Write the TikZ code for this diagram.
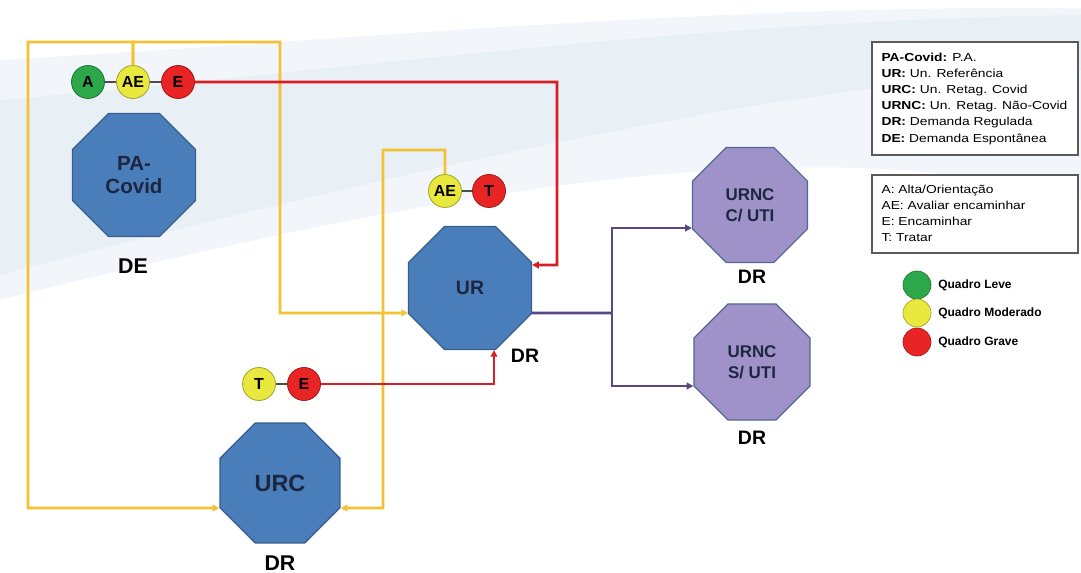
\documentclass[tikz,border=0pt]{standalone}
\usepackage{fontspec}
\setmainfont{Liberation Sans}
\usetikzlibrary{shapes.geometric,arrows.meta,calc}
\definecolor{octblue}{RGB}{74,126,187}
\definecolor{octblueb}{RGB}{56,93,138}
\definecolor{octpur}{RGB}{158,146,200}
\definecolor{octpurb}{RGB}{80,104,150}
\definecolor{navy}{RGB}{28,38,64}
\definecolor{ylw}{RGB}{242,194,52}
\definecolor{redl}{RGB}{214,30,36}
\definecolor{purl}{RGB}{88,72,132}
\definecolor{cgreen}{RGB}{44,168,74}
\definecolor{cyellow}{RGB}{232,232,62}
\definecolor{cred}{RGB}{232,36,36}
\definecolor{bgA}{RGB}{232,240,246}
\definecolor{bgB}{RGB}{242,246,250}
\definecolor{boxgray}{RGB}{90,90,90}
\begin{document}
\begin{tikzpicture}[x=0.75pt,y=-0.75pt,
  oct/.style={regular polygon, regular polygon sides=8, inner sep=0pt,
    minimum size=#1, align=center, font=\bfseries, text=navy, line width=0.9pt},
  octb/.style={oct=#1, fill=octblue, draw=octblueb},
  octp/.style={oct=#1, fill=octpur, draw=octpurb},
  dot/.style={circle, inner sep=0pt, minimum size=24.75pt, line width=0.6pt,
    font=\fontsize{12}{12}\selectfont\bfseries, text=black},
  gdot/.style={dot, fill=cgreen, draw=cgreen!70!black},
  ydot/.style={dot, fill=cyellow, draw=cyellow!70!black},
  rdot/.style={dot, fill=cred, draw=cred!70!black},
  ldot/.style={circle, inner sep=0pt, minimum size=21pt, line width=0.5pt},
  lab/.style={font=\fontsize{14.6}{16}\selectfont\bfseries, text=black},
  link/.style={draw=black!70, line width=0.8pt},
  yl/.style={draw=ylw, line width=2.2pt},
  rl/.style={draw=redl, line width=1.9pt},
  pl/.style={draw=purl, line width=1.9pt},
  tip/.style={-{Triangle[length=5pt,width=5pt]}},
  legbox/.style={draw=boxgray, line width=1.1pt, minimum width=154.5pt},
  legtxt/.style={anchor=west, inner sep=0pt, font=\fontsize{8.7}{12.1}\selectfont},
  qlab/.style={anchor=west, inner sep=0pt, font=\fontsize{9}{10}\selectfont\bfseries}
]
\useasboundingbox (0,0) rectangle (1081,573);
% background swoosh
\fill[bgB] (0,60) .. controls (350,40) and (700,5) .. (1081,8) -- (1081,200) .. controls (800,120) and (400,200) .. (0,300) -- cycle;
\fill[bgA] (0,100) .. controls (350,70) and (700,20) .. (1081,15) -- (1081,70) .. controls (800,80) and (400,170) .. (0,275) -- cycle;

% octagons
\node[octb=99.8pt, font=\fontsize{15.4}{17.3}\selectfont\bfseries] (PA) at (134,175) {PA-\\Covid};
\node[octb=99.8pt, font=\fontsize{14.6}{16}\selectfont\bfseries] (UR) at (470,288) {UR};
\node[octb=97.4pt, font=\fontsize{17.6}{19}\selectfont\bfseries] (URC) at (280,483) {URC};
\node[octp=93.4pt, font=\fontsize{12.7}{15.8}\selectfont\bfseries] (N1) at (750,205) {URNC\\C/ UTI};
\node[octp=94.2pt, font=\fontsize{12.7}{15.8}\selectfont\bfseries] (N2) at (752,362) {URNC\\S/ UTI};

% labels
\node[lab, font=\fontsize{16}{17}\selectfont\bfseries] (lDE) at (133,266) {DE};
\node[lab] (lUR) at (525,356) {DR};
\node[lab, font=\fontsize{16}{17}\selectfont\bfseries] (lURC) at (280,563) {DR};
\node[lab] (lN1) at (752,277) {DR};
\node[lab] (lN2) at (752,438) {DR};

% circles
\node[gdot] (A1) at (88,82) {A};
\node[ydot] (AE1) at (133,82) {AE};
\node[rdot] (E1) at (178,82) {E};
\node[ydot] (AE2) at (445,191) {AE};
\node[rdot] (T2) at (489,191) {T};
\node[ydot] (T3) at (259,384) {T};
\node[rdot] (E3) at (304,384) {E};
\draw[link] (A1) -- (AE1);
\draw[link] (AE1) -- (E1);
\draw[link] (AE2) -- (T2);
\draw[link] (T3) -- (E3);

% coordinates
\coordinate (ytl) at (28,42);
\coordinate (ytr) at (280,42);
\coordinate (ylb) at (28,508);
\coordinate (yrb) at (280,313);
\coordinate (y2t) at (383,150);
\coordinate (y2b) at (383,508);
\coordinate (rc) at (557,265);
\coordinate (pj) at (612,313);

% yellow connectors
\draw[yl, tip] (AE1.north) |- (ytl) -- (ylb) -- ($(URC.180)+(0,25)$);
\draw[yl, tip] (AE1.north) |- (ytr) -- (yrb) -- ($(UR.180)+(0,25)$);
\draw[yl, tip] (AE2.north) |- (y2t) -- (y2b) -- ($(URC.0)+(0,25)$);
% red connectors
\draw[rl, tip] (E1.east) -| (rc) -- ($(UR.0)+(0,-23)$);
\draw[rl, tip] (E3.east) -| ($(UR.270)+(24,0)$);
% purple connectors
\draw[pl] ($(UR.0)+(0,25)$) -- (pj);
\draw[pl, tip] (pj) |- ($(N1.180)+(0,23)$);
\draw[pl, tip] (pj) |- ($(N2.180)+(0,24)$);

% legend boxes
\node[legbox, minimum height=84.75pt, fill=white] (box1) at (975,98.5) {};
\node[legtxt] (t1) at ($(box1.west)+(10,0)$) {\scalebox{1.19}[1]{\begin{tabular}{@{}l@{}}
\textbf{PA-Covid:} P.A.\\
\textbf{UR:} Un. Referência\\
\textbf{URC:} Un. Retag. Covid\\
\textbf{URNC:} Un. Retag. Não-Covid\\
\textbf{DR:} Demanda Regulada\\
\textbf{DE:} Demanda Espontânea
\end{tabular}}};
\node[legbox, minimum height=58.5pt, fill=white] (box2) at (975,214) {};
\node[legtxt] (t2) at ($(box2.west)+(10,0)$) {\scalebox{1.19}[1]{\begin{tabular}{@{}l@{}}
A: Alta/Orientação\\
AE: Avaliar encaminhar\\
E: Encaminhar\\
T: Tratar
\end{tabular}}};

% severity legend
\node[ldot, fill=cgreen, draw=cgreen!70!black] (q1) at (917,285) {};
\node[ldot, fill=cyellow, draw=cyellow!70!black] (q2) at (917,313) {};
\node[ldot, fill=cred, draw=cred!70!black] (q3) at (917,342) {};
\node[qlab] (ql1) at (938,285) {Quadro Leve};
\node[qlab] (ql2) at (938,313) {Quadro Moderado};
\node[qlab] (ql3) at (938,342) {Quadro Grave};
\end{tikzpicture}
\end{document}
